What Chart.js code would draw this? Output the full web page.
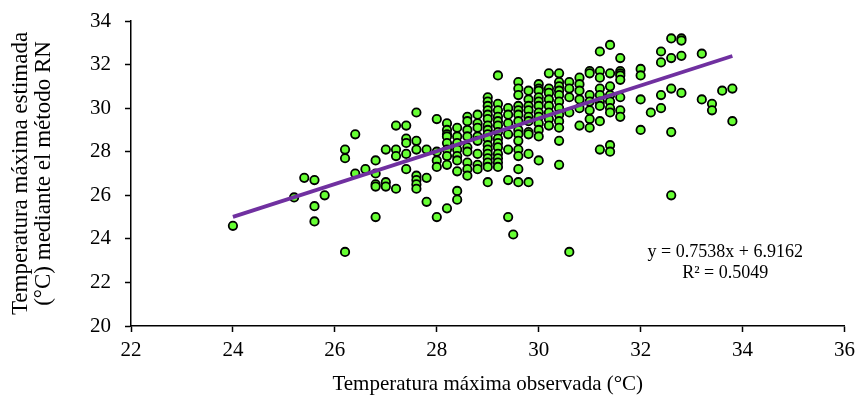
<!DOCTYPE html>
<html>
<head>
<meta charset="utf-8">
<script src="https://cdn.jsdelivr.net/npm/chart.js@4.4.0/dist/chart.umd.min.js"></script>
<style>
  html, body { margin: 0; padding: 0; background: #fff; }
  #wrap { width: 861px; height: 405px; }
</style>
</head>
<body>
<div id="wrap"><canvas id="scatterChart" width="861" height="405"></canvas></div>
<script>
// ===== Data =====
// observed max temperature (x) and the estimated values (y) read at each x
const obsTemps = [24.0, 25.2, 25.4, 25.6, 25.8, 26.2, 26.4, 26.6, 26.8, 27.0,
                  27.2, 27.4, 27.6, 27.8, 28.0, 28.2, 28.4, 28.6, 28.8, 29.0,
                  29.2, 29.4, 29.5, 29.6, 29.8, 30.0, 30.2, 30.4, 30.6, 30.8,
                  31.0, 31.2, 31.4, 31.6, 32.0, 32.2, 32.4, 32.6, 32.8, 33.2,
                  33.4, 33.6, 33.8];
const estTemps = [
  [24.6], [25.9], [26.8], [26.7, 25.5, 24.8], [26.0],
  [28.1, 27.7, 23.4], [28.8, 27.0], [27.2], [27.6, 27.0, 26.5, 26.4, 25.0], [28.1, 26.6, 26.4],
  [29.2, 28.1, 27.8, 26.3], [29.2, 28.6, 28.4, 27.9, 27.2], [29.8, 28.5, 28.1, 26.9, 26.7, 26.5, 26.3],
  [28.1, 26.8, 25.7], [29.5, 28.0, 27.6, 27.3, 25.0],
  [29.3, 29.0, 28.8, 28.7, 28.4, 28.1, 27.8, 27.4, 25.4],
  [29.1, 28.7, 28.4, 28.1, 27.8, 27.6, 27.1, 26.2, 25.8],
  [29.6, 29.4, 29.0, 28.7, 28.2, 28.0, 27.5, 27.2, 26.9],
  [29.7, 29.3, 29.1, 28.7, 28.5, 27.9, 27.4, 27.2],
  [30.5, 30.3, 30.1, 29.9, 29.7, 29.5, 29.2, 29.0, 28.8, 28.6, 28.3, 28.1, 27.9, 27.7, 27.5, 27.3, 26.6],
  [31.5, 30.2, 29.9, 29.6, 29.4, 29.2, 28.9, 28.6, 28.4, 28.2, 27.9, 27.7, 27.5, 27.3],
  [30.0, 29.7, 29.3, 28.8, 28.1, 26.7, 25.0], [24.2],
  [31.2, 30.9, 30.6, 30.1, 29.9, 29.7, 29.4, 29.0, 28.8, 28.5, 28.1, 27.8, 27.2, 26.6],
  [30.8, 30.4, 30.1, 29.9, 29.6, 29.4, 28.9, 28.8, 27.9, 26.6],
  [31.1, 30.9, 30.8, 30.5, 30.3, 30.1, 29.8, 29.6, 29.3, 29.0, 28.7, 27.6],
  [31.6, 30.9, 30.7, 30.4, 30.1, 29.8, 29.5, 29.2],
  [31.6, 31.2, 31.0, 30.8, 30.6, 30.3, 30.0, 29.7, 29.4, 29.1, 28.5, 27.4],
  [31.2, 30.9, 30.5, 29.8, 23.4],
  [31.4, 31.1, 30.8, 30.4, 30.0, 29.2],
  [31.7, 31.6, 30.6, 30.3, 29.9, 29.5, 29.1],
  [32.6, 31.7, 31.4, 30.9, 30.6, 30.3, 30.1, 29.4, 28.1],
  [32.9, 31.6, 31.0, 30.6, 30.3, 30.0, 29.8, 28.3, 28.0],
  [32.3, 31.7, 31.6, 31.5, 31.3, 30.5, 29.9, 29.6],
  [31.8, 31.5, 30.4, 29.0], [29.8], [32.6, 32.1, 30.6, 30.0],
  [33.2, 32.3, 30.9, 28.9, 26.0], [33.2, 33.1, 32.4, 30.7],
  [32.5, 30.4], [30.2, 29.9], [30.8], [30.9, 29.4]
];

// linear trend as printed on the chart
const slope = 0.7538;
const intercept = 6.9162;
const rSquared = 0.5049;
const trendRange = [24.0, 33.8];

const xTicks = [22, 24, 26, 28, 30, 32, 34, 36];
const yTicks = [20, 22, 24, 26, 28, 30, 32, 34];

// ===== Build points =====
const points = [];
obsTemps.forEach((x, i) => {
  estTemps[i].forEach(y => points.push({ x: x, y: y }));
});
const trendPoints = trendRange.map(x => ({ x: x, y: slope * x + intercept }));

const serif = "'Liberation Serif', 'Times New Roman', serif";

// ===== Equation label =====
const equationLabel = {
  id: 'equationLabel',
  afterDatasetsDraw(chart) {
    const { ctx, scales: { x, y } } = chart;
    ctx.save();
    ctx.fillStyle = '#000';
    ctx.font = '18px ' + serif;
    ctx.textAlign = 'center';
    ctx.textBaseline = 'alphabetic';
    const cx = x.getPixelForValue(33.66);
    ctx.fillText('y = ' + slope + 'x + ' + intercept, cx, y.getPixelForValue(23.19));
    ctx.fillText('R\u00B2 = ' + rSquared, cx, y.getPixelForValue(22.2));
    ctx.restore();
  }
};

// ===== Chart =====
const ctx = document.getElementById('scatterChart').getContext('2d');
new Chart(ctx, {
  type: 'scatter',
  data: {
    datasets: [{
      type: 'line',
      data: trendPoints,
      borderColor: '#7030a0',
      borderWidth: 3.8,
      pointRadius: 0,
      fill: false,
      tension: 0
    }, {
      data: points,
      backgroundColor: '#66ff33',
      borderColor: '#000',
      borderWidth: 1.8,
      pointRadius: 4.2
    }]
  },
  options: {
    responsive: false,
    animation: false,
    layout: { padding: { left: 0, right: 15, top: 21, bottom: 0 } },
    plugins: { legend: { display: false }, tooltip: { enabled: false } },
    scales: {
      x: {
        type: 'linear',
        min: 22, max: 36,
        afterFit: s => { s.height = 79; },
        afterBuildTicks: s => { s.ticks = xTicks.map(v => ({ value: v })); },
        ticks: { color: '#000', padding: 6, font: { family: serif, size: 21 } },
        grid: { drawOnChartArea: false, tickLength: 6, color: '#000', tickWidth: 1.5 },
        border: { color: '#000', width: 1.5 },
        title: {
          display: true,
          text: 'Temperatura máxima observada (°C)',
          color: '#000',
          font: { family: serif, size: 21 },
          padding: { top: 0, bottom: 8 }
        }
      },
      y: {
        min: 20, max: 34,
        afterFit: s => { s.width = 131; s.paddingTop = 0; s.paddingBottom = 0; },
        afterBuildTicks: s => { s.ticks = yTicks.map(v => ({ value: v })); },
        ticks: { color: '#000', padding: 14, font: { family: serif, size: 21 } },
        grid: { drawOnChartArea: false, tickLength: 6, color: '#000', tickWidth: 1.5 },
        border: { color: '#000', width: 1.5 },
        title: {
          display: true,
          text: ['Temperatura máxima estimada', '(°C) mediante el método RN'],
          color: '#000',
          font: { family: serif, size: 23, lineHeight: 1.0 },
          padding: { top: 9, bottom: 0 }
        }
      }
    }
  },
  plugins: [equationLabel]
});
</script>
</body>
</html>
